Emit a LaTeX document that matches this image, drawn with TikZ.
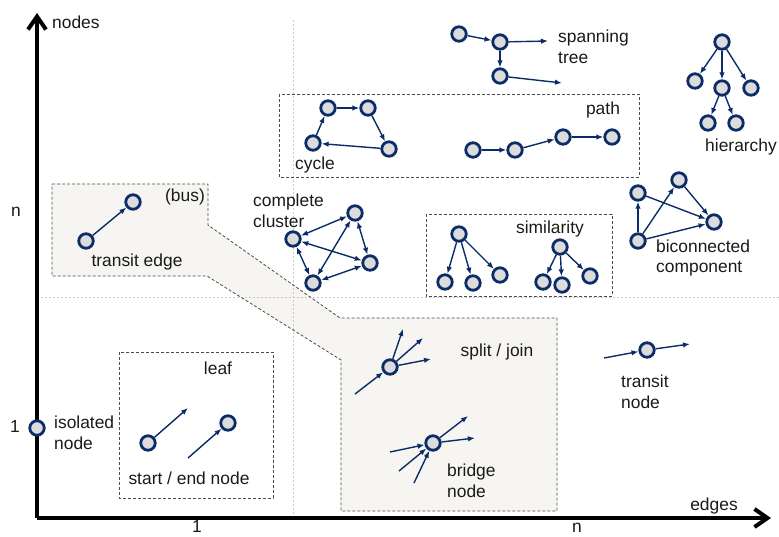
\documentclass[tikz,border=0pt]{standalone}
\usepackage{fontspec}
\setmainfont{Liberation Sans}
\usetikzlibrary{arrows.meta}
\definecolor{navy}{HTML}{0B2C66}
\definecolor{nfill}{HTML}{DCDCDC}
\definecolor{regionc}{HTML}{F6F5F2}
\definecolor{gridc}{HTML}{C8C8C8}
\definecolor{txt}{HTML}{1A1A1A}
\begin{document}
\begin{tikzpicture}[x=1pt,y=-1pt,
 gn/.style={circle,draw=navy,line width=2.8pt,fill=nfill,minimum size=14.5pt,inner sep=0pt},
 ed/.style={draw=navy,line width=1.4pt,-{Latex[length=7pt,width=5.5pt]}},
 bed/.style={draw=navy,line width=1.4pt,{Latex[length=7pt,width=5.5pt]}-{Latex[length=7pt,width=5.5pt]}},
 lbl/.style={inner sep=0pt,font=\fontsize{17.4}{20.5}\selectfont,text=txt},
 axisl/.style={line width=4pt,-{Straight Barb[length=13pt,width=18pt]}},
 gridl/.style={gridc,line width=0.7pt,dash pattern=on 2pt off 2pt},
 regb/.style={draw=black!70,line width=0.8pt,dash pattern=on 3pt off 2pt},
]
\useasboundingbox (0,0) rectangle (779,536);
% shaded region
\fill[regionc] (52,184) -- (208,184) -- (208,225) -- (340,318) -- (557,318) -- (557,511) -- (341,511) -- (341,360) -- (207,276) -- (52,276) -- cycle;
% grid lines
\draw[gridl] (293,20) -- (293,518);
\draw[gridl] (37,297) -- (779,297);
% region borders
\draw[regb] (52,184) -- (208,184) -- (208,225) -- (340,318) -- (557,318) -- (557,511) -- (341,511) -- (341,360) -- (207,276) -- (52,276) -- cycle;
\draw[regb] (119,352) rectangle (273,498);
\draw[regb] (279,94) rectangle (639,177);
\draw[regb] (426,214) rectangle (612,296);
% axes
\coordinate (O) at (37,518);
\coordinate (ytop) at (37,13);
\coordinate (xend) at (771,518);
\draw[axisl] (O) -- (ytop);
\draw[axisl] (O) -- (xend);
% axis labels
\node[lbl,anchor=west] (lnodes) at (52,22) {nodes};
\node[lbl] (ln) at (16,212) {n};
\node[lbl] (l1) at (15,427) {1};
\node[lbl] (b1) at (197,527) {1};
\node[lbl] (bn) at (577,528) {n};
\node[lbl] (ledges) at (714,506) {edges};

% transit edge
\node[gn] (te1) at (86,241) {};
\node[gn] (te2) at (133,202) {};
\draw[ed] (te1) -- (te2);
\node[lbl] (lbus) at (185,197) {(bus)};
\node[lbl] (lte) at (137,262) {transit edge};

% isolated node
\node[gn] (iso) at (37,428) {};
\node[lbl,anchor=west,align=left] (liso) at (54,433) {isolated\\node};

% leaf
\node[gn] (lf1) at (148,443) {};
\coordinate (lf1o) at (188,408);
\draw[ed] (lf1) -- (lf1o);
\node[gn] (lf2) at (228,423) {};
\coordinate (lf2i) at (188,458);
\draw[ed] (lf2i) -- (lf2);
\node[lbl] (lleaf) at (218,368) {leaf};
\node[lbl] (lse) at (189,478) {start / end node};

% split / join
\node[gn] (sj) at (390,367) {};
\coordinate (sji) at (355,394);
\coordinate (sjo1) at (403,329);
\coordinate (sjo2) at (423,338);
\coordinate (sjo3) at (431,359);
\draw[ed] (sji) -- (sj);
\draw[ed] (sj) -- (sjo1);
\draw[ed] (sj) -- (sjo2);
\draw[ed] (sj) -- (sjo3);
\node[lbl] (lsj) at (497,352) {split / join};

% bridge node
\node[gn] (br) at (433,443) {};
\coordinate (bri1) at (390,452);
\coordinate (bri2) at (399,471);
\coordinate (bri3) at (414,483);
\coordinate (bro1) at (468,416);
\coordinate (bro2) at (475,438);
\draw[ed] (bri1) -- (br);
\draw[ed] (bri2) -- (br);
\draw[ed] (bri3) -- (br);
\draw[ed] (br) -- (bro1);
\draw[ed] (br) -- (bro2);
\node[lbl,anchor=west,align=left] (lbr) at (447,481) {bridge\\node};

% transit node
\node[gn] (tn) at (647,350) {};
\coordinate (tni) at (604,358);
\coordinate (tno) at (690,344);
\draw[ed] (tni) -- (tn);
\draw[ed] (tn) -- (tno);
\node[lbl,anchor=west,align=left] (ltn) at (621,392) {transit\\node};

% complete cluster
\node[gn] (cc1) at (293,239) {};
\node[gn] (cc2) at (355,213) {};
\node[gn] (cc3) at (370,263) {};
\node[gn] (cc4) at (313,283) {};
\draw[bed] (cc1) -- (cc2);
\draw[bed] (cc1) -- (cc3);
\draw[bed] (cc1) -- (cc4);
\draw[bed] (cc2) -- (cc3);
\draw[bed] (cc2) -- (cc4);
\draw[bed] (cc3) -- (cc4);
\node[lbl,anchor=west,align=left] (lcc) at (253,211) {complete\\cluster};

% cycle
\node[gn] (cy1) at (313,143) {};
\node[gn] (cy2) at (328,108) {};
\node[gn] (cy3) at (368,108) {};
\node[gn] (cy4) at (389,149) {};
\draw[ed] (cy1) -- (cy2);
\draw[ed] (cy2) -- (cy3);
\draw[ed] (cy3) -- (cy4);
\draw[ed] (cy4) -- (cy1);
\node[lbl] (lcy) at (315,165) {cycle};

% path
\node[gn] (pa1) at (473,150) {};
\node[gn] (pa2) at (515,150) {};
\node[gn] (pa3) at (563,137) {};
\node[gn] (pa4) at (612,137) {};
\draw[ed] (pa1) -- (pa2);
\draw[ed] (pa2) -- (pa3);
\draw[ed] (pa3) -- (pa4);
\node[lbl] (lpa) at (603,110) {path};

% spanning tree
\node[gn] (st1) at (459,34) {};
\node[gn] (st2) at (500,42) {};
\node[gn] (st3) at (500,76) {};
\coordinate (sto1) at (548,41);
\coordinate (sto2) at (562,83);
\draw[ed] (st1) -- (st2);
\draw[ed] (st2) -- (st3);
\draw[ed] (st2) -- (sto1);
\draw[ed] (st3) -- (sto2);
\node[lbl,anchor=west,align=left] (lst) at (558,47) {spanning\\tree};

% hierarchy
\node[gn] (hi0) at (722,42) {};
\node[gn] (hi1) at (695,81) {};
\node[gn] (hi2) at (722,88) {};
\node[gn] (hi3) at (751,88) {};
\node[gn] (hi4) at (708,123) {};
\node[gn] (hi5) at (736,123) {};
\draw[ed] (hi0) -- (hi1);
\draw[ed] (hi0) -- (hi2);
\draw[ed] (hi0) -- (hi3);
\draw[ed] (hi2) -- (hi4);
\draw[ed] (hi2) -- (hi5);
\node[lbl,anchor=east] (lhi) at (777,147) {hierarchy};

% biconnected component
\node[gn] (bc1) at (638,193) {};
\node[gn] (bc2) at (679,180) {};
\node[gn] (bc3) at (714,222) {};
\node[gn] (bc4) at (638,241) {};
\draw[ed] (bc4) -- (bc1);
\draw[ed] (bc1) -- (bc3);
\draw[ed] (bc4) -- (bc2);
\draw[ed] (bc2) -- (bc3);
\draw[ed] (bc4) -- (bc3);
\node[lbl,anchor=west,align=left] (lbc) at (656,258) {biconnected\\component};

% similarity
\node[gn] (sa0) at (459,234) {};
\node[gn] (sa1) at (445,282) {};
\node[gn] (sa2) at (473,283) {};
\node[gn] (sa3) at (500,275) {};
\draw[ed] (sa0) -- (sa1);
\draw[ed] (sa0) -- (sa2);
\draw[ed] (sa0) -- (sa3);
\node[gn] (sb0) at (560,247) {};
\node[gn] (sb1) at (543,282) {};
\node[gn] (sb2) at (562,285) {};
\node[gn] (sb3) at (590,276) {};
\draw[ed] (sb0) -- (sb1);
\draw[ed] (sb0) -- (sb2);
\draw[ed] (sb0) -- (sb3);
\node[lbl] (lsim) at (550,229) {similarity};
\end{tikzpicture}
\end{document}
